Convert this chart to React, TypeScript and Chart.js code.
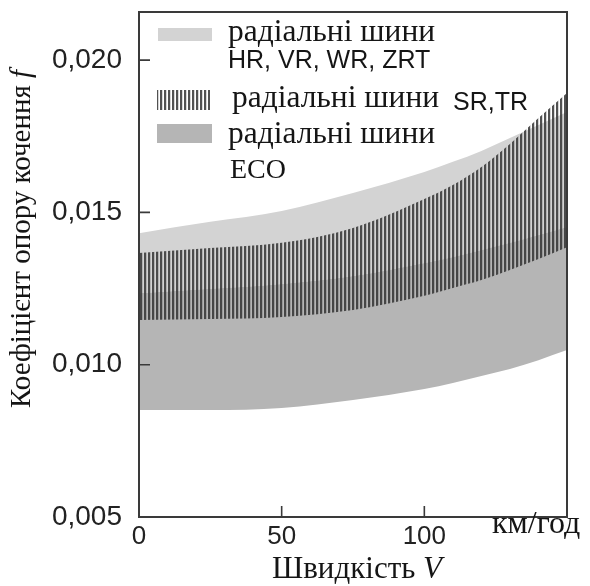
import React, { useEffect, useRef } from 'react';
import { Chart, registerables } from 'chart.js';

Chart.register(...registerables);

// Speed, km/h
const speeds = [0, 25, 50, 75, 100, 110, 120, 130, 140, 150];
// Radial tyres HR, VR, WR, ZRT (light band)
const hrTop = [0.01432, 0.01469, 0.01505, 0.01564, 0.01633, 0.01666, 0.01702, 0.01744, 0.01787, 0.0183];
const hrBottom = [0.01235, 0.01249, 0.01265, 0.01291, 0.01334, 0.01354, 0.01377, 0.014, 0.01426, 0.01452];
// Radial tyres SR, TR (hatched band)
const srTop = [0.01367, 0.01383, 0.014, 0.01449, 0.01544, 0.0159, 0.01649, 0.01725, 0.0181, 0.01892];
const srBottom = [0.01147, 0.0115, 0.01157, 0.0118, 0.01226, 0.01252, 0.01278, 0.01311, 0.01347, 0.01386];
// Radial tyres ECO (medium band)
const ecoTop = [0.01235, 0.01249, 0.01265, 0.01291, 0.01334, 0.01354, 0.01377, 0.014, 0.01426, 0.01452];
const ecoBottom = [0.00851, 0.00851, 0.00858, 0.00884, 0.0092, 0.0094, 0.00963, 0.00986, 0.01015, 0.01048];

const yTickValues = [0.005, 0.01, 0.015, 0.02];
const xTickValues = [0, 50, 100];

const legendTexts = {
  hr1: 'радіальні шини',
  hr2: 'HR, VR, WR, ZRT',
  sr1: 'радіальні шини',
  sr2: 'SR,TR',
  eco1: 'радіальні шини',
  eco2: 'ECO',
};
const yTitle = 'Коефіцієнт опору кочення ';
const yTitleSym = 'f';
const xTitle = 'Швидкість ';
const xTitleSym = 'V';
const xUnit = 'км/год';

const LIGHT = '#d3d3d3';
const MEDIUM = '#b5b5b5';
const SERIF = '"Liberation Serif", "Times New Roman", serif';
const SANS = '"Liberation Sans", Arial, sans-serif';

function makeHatch(): CanvasPattern {
  const c = document.createElement('canvas');
  c.width = 4;
  c.height = 4;
  const g = c.getContext('2d')!;
  g.fillStyle = 'rgba(50,50,50,0.85)';
  g.fillRect(0, 0, 2, 4);
  g.fillStyle = 'rgba(50,50,50,0.2)';
  g.fillRect(2, 0, 1, 4);
  return g.createPattern(c, 'repeat')!;
}

export default function App() {
  const ref = useRef<HTMLCanvasElement | null>(null);

  useEffect(() => {
    if (!ref.current) return;
    const hatch = makeHatch();
    const pts = (arr: number[]) => speeds.map((x, i) => ({ x, y: arr[i] }));
    const base = {
      borderWidth: 1,
      borderColor: 'rgba(0,0,0,0)',
      pointRadius: 0,
      cubicInterpolationMode: 'monotone' as const,
    };

    const decor = {
      id: 'decor',
      afterDraw(chart: any) {
        const ctx = chart.ctx as CanvasRenderingContext2D;
        const { left, right, top, bottom } = chart.chartArea;
        const xs = chart.scales.x;
        const ys = chart.scales.y;
        ctx.save();
        // frame
        ctx.strokeStyle = '#3a3a3a';
        ctx.lineWidth = 2;
        ctx.strokeRect(left, top, right - left, bottom - top);
        // inward ticks
        ctx.lineWidth = 1.6;
        ctx.beginPath();
        yTickValues.forEach((v) => {
          const py = ys.getPixelForValue(v);
          if (py > bottom - 2) return;
          ctx.moveTo(left, py);
          ctx.lineTo(left + 11, py);
        });
        xTickValues.forEach((v) => {
          const px = xs.getPixelForValue(v);
          if (px < left + 2) return;
          ctx.moveTo(px, bottom);
          ctx.lineTo(px, bottom - 11);
        });
        ctx.stroke();

        // legend
        ctx.fillStyle = LIGHT;
        ctx.fillRect(158, 28, 54, 13);
        ctx.fillStyle = hatch;
        ctx.fillRect(157, 90, 53, 20);
        ctx.fillStyle = MEDIUM;
        ctx.fillRect(157, 124, 55, 19);

        ctx.fillStyle = '#151515';
        ctx.textBaseline = 'alphabetic';
        ctx.textAlign = 'left';
        ctx.font = `31.5px ${SERIF}`;
        ctx.fillText(legendTexts.hr1, 228, 41);
        ctx.fillText(legendTexts.sr1, 232, 107);
        ctx.fillText(legendTexts.eco1, 228, 143);
        ctx.font = `28px ${SERIF}`;
        ctx.fillText(legendTexts.eco2, 230, 178);
        ctx.font = `25px ${SANS}`;
        ctx.fillText(legendTexts.hr2, 228, 68);
        ctx.fillText(legendTexts.sr2, 453, 110);

        // unit
        ctx.font = `32px ${SERIF}`;
        ctx.fillText(xUnit, 492, 533);

        // x title
        ctx.font = `31px ${SERIF}`;
        const w1 = ctx.measureText(xTitle).width;
        ctx.font = `italic 31px ${SERIF}`;
        const w2 = ctx.measureText(xTitleSym).width;
        const sx = 357 - (w1 + w2) / 2;
        ctx.font = `31px ${SERIF}`;
        ctx.fillText(xTitle, sx, 578);
        ctx.font = `italic 31px ${SERIF}`;
        ctx.fillText(xTitleSym, sx + w1, 578);

        // y title
        ctx.translate(22, 239);
        ctx.rotate(-Math.PI / 2);
        ctx.textBaseline = 'middle';
        ctx.font = `29px ${SERIF}`;
        const t1 = ctx.measureText(yTitle).width;
        ctx.font = `italic 29px ${SERIF}`;
        const t2 = ctx.measureText(yTitleSym).width;
        const st = -(t1 + t2) / 2;
        ctx.font = `29px ${SERIF}`;
        ctx.fillText(yTitle, st, 0);
        ctx.font = `italic 29px ${SERIF}`;
        ctx.fillText(yTitleSym, st + t1, 0);
        ctx.restore();
      },
    };

    const chart = new Chart(ref.current, {
      type: 'line',
      data: {
        datasets: [
          { ...base, label: 'SR,TR', data: pts(srTop), fill: 1, backgroundColor: hatch, order: 0 },
          { ...base, label: 'SR,TR low', data: pts(srBottom), fill: false, order: 0 },
          { ...base, label: 'ECO', data: pts(ecoTop), fill: 3, backgroundColor: MEDIUM, order: 1 },
          { ...base, label: 'ECO low', data: pts(ecoBottom), fill: false, order: 1 },
          { ...base, label: 'HR', data: pts(hrTop), fill: 5, backgroundColor: LIGHT, order: 2 },
          { ...base, label: 'HR low', data: pts(hrBottom), fill: false, order: 2 },
        ] as any,
      },
      options: {
        animation: false,
        responsive: false,
        maintainAspectRatio: false,
        layout: { padding: { left: 0, top: 12, right: 23, bottom: 0 } },
        plugins: { legend: { display: false }, tooltip: { enabled: false } },
        scales: {
          x: {
            type: 'linear',
            min: 0,
            max: 150,
            grid: { display: false, drawTicks: false },
            border: { display: false },
            afterBuildTicks: (s: any) => {
              s.ticks = xTickValues.map((v) => ({ value: v }));
            },
            afterFit: (s: any) => {
              s.height = 69;
              s.paddingLeft = 0;
              s.paddingRight = 0;
            },
            ticks: {
              padding: 4,
              autoSkip: false,
              maxRotation: 0,
              color: '#222',
              font: { family: SANS, size: 26 },
              callback: (v: any) => String(v),
            },
          },
          y: {
            type: 'linear',
            min: 0.005,
            max: 0.02158,
            grid: { display: false, drawTicks: false },
            border: { display: false },
            afterBuildTicks: (s: any) => {
              s.ticks = yTickValues.map((v) => ({ value: v }));
            },
            afterFit: (s: any) => {
              s.width = 139;
              s.paddingTop = 0;
              s.paddingBottom = 0;
            },
            ticks: {
              padding: 17,
              autoSkip: false,
              color: '#222',
              font: { family: SANS, size: 28 },
              callback: (v: any) => Number(v).toFixed(3).replace('.', ','),
            },
          },
        },
      },
      plugins: [decor],
    });
    return () => chart.destroy();
  }, []);

  return (
    <div style={{ position: 'fixed', left: 0, top: 0, width: 590, height: 586, background: '#fff' }}>
      <canvas ref={ref} width={590} height={586} style={{ display: 'block' }} />
    </div>
  );
}
